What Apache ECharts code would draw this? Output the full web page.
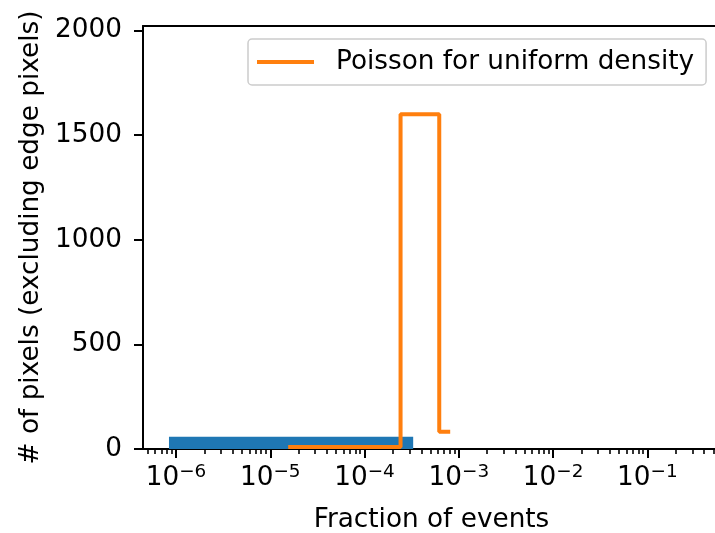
<!DOCTYPE html>
<html>
<head>
<meta charset="utf-8">
<script src="https://cdn.jsdelivr.net/npm/echarts@6/dist/echarts.min.js"></script>
<style>
html,body{margin:0;padding:0;background:#fff;}
#chart{width:715px;height:533px;}
</style>
</head>
<body>
<div id="chart"></div>
<script>
// ---- data ----
// histogram block (blue): [binStart, binEnd, count]
var histBins = [[8.43e-7, 3.28e-4, 58]];
// Poisson step (orange)
var poissonX = [1.55e-5, 2.41e-4, 6.2e-4, 8.1e-4];
var poissonY = [10, 1600, 83, 83];
var seriesName = 'Poisson for uniform density';
// axes (the plot continues a little past the right edge of the picture)
var xMin = 4.47e-7, xMax = 0.589;
var yMin = 0, yMax = 2022;
var xMajorTicks = [1e-6, 1e-5, 1e-4, 1e-3, 1e-2, 1e-1];
var yTicks = [0, 500, 1000, 1500, 2000];

var xMinorTicks = [];
for (var d = -7; d <= 0; d++) {
  for (var k = 2; k <= 9; k++) {
    var v = k * Math.pow(10, d);
    if (v >= xMin && v <= xMax) xMinorTicks.push(v);
  }
}

var FONT = 'DejaVu Sans';
var FS = 26.3;
var chart = echarts.init(document.getElementById('chart'), null, {renderer: 'canvas'});

var option = {
  animation: false,
  backgroundColor: '#ffffff',
  textStyle: {fontFamily: FONT},
  grid: {
    left: 143, right: -5, top: 26, bottom: 84,
    show: false, containLabel: false,
    outerBoundsMode: 'none'
  },
  legend: {
    show: true,
    data: [seriesName],
    left: 248, top: 39,
    padding: [8, 12, 8, 9],
    icon: 'rect',
    itemWidth: 57, itemHeight: 4,
    borderColor: '#cccccc', borderWidth: 1.5, borderRadius: 4,
    backgroundColor: 'rgba(255,255,255,0.8)',
    textStyle: {fontFamily: FONT, fontSize: FS, color: '#000', padding: [0, 0, 0, 17], lineHeight: 30}
  },
  xAxis: [{
    type: 'log',
    min: xMin, max: xMax,
    position: 'bottom',
    name: 'Fraction of events',
    nameLocation: 'middle',
    nameGap: 58,
    nameTextStyle: {fontFamily: FONT, fontSize: FS, color: '#000'},
    axisLine: {show: true, onZero: false, lineStyle: {color: '#000', width: 2}},
    axisTick: {show: true, length: 9, lineStyle: {color: '#000', width: 2}, customValues: xMajorTicks},
    splitLine: {show: false},
    minorTick: {show: false},
    axisLabel: {
      show: true, margin: 14,
      customValues: xMajorTicks,
      formatter: function (v) {
        var e = Math.round(Math.log10(v));
        return '{b|10}{s|' + (e < 0 ? '\u2212' + (-e) : e) + '}';
      },
      rich: {
        b: {fontFamily: FONT, fontSize: FS, color: '#000', lineHeight: 31},
        s: {fontFamily: FONT, fontSize: 18.4, color: '#000', lineHeight: 18, verticalAlign: 'top'}
      }
    }
  }, {
    type: 'log',
    min: xMin, max: xMax,
    position: 'bottom',
    gridIndex: 0,
    axisLine: {show: false, onZero: false},
    axisTick: {show: true, length: 5, lineStyle: {color: '#000', width: 1.6}, customValues: xMinorTicks},
    axisLabel: {show: false},
    splitLine: {show: false}
  }, {
    type: 'log',
    min: xMin, max: xMax,
    position: 'top',
    gridIndex: 0,
    axisLine: {show: true, onZero: false, lineStyle: {color: '#000', width: 2}},
    axisTick: {show: false},
    axisLabel: {show: false},
    splitLine: {show: false}
  }],
  yAxis: {
    type: 'value',
    min: yMin, max: yMax,
    name: '# of pixels (excluding edge pixels)',
    nameLocation: 'middle',
    nameGap: 99,
    nameRotate: 90,
    nameTextStyle: {fontFamily: FONT, fontSize: FS, color: '#000'},
    axisLine: {show: true, lineStyle: {color: '#000', width: 2}},
    axisTick: {show: true, length: 9, lineStyle: {color: '#000', width: 2}, customValues: yTicks},
    axisLabel: {
      show: true, margin: 21, fontFamily: FONT, fontSize: FS, color: '#000', customValues: yTicks,
      formatter: function (v) { return String(v); }
    },
    splitLine: {show: false}
  },
  series: [{
    type: 'custom',
    name: 'hist',
    xAxisIndex: 0,
    z: 1,
    encode: {x: [0, 1], y: 2},
    data: histBins,
    renderItem: function (params, api) {
      var p0 = api.coord([api.value(0), 0]);
      var p1 = api.coord([api.value(1), api.value(2)]);
      return {
        type: 'rect',
        shape: {x: p0[0], y: p1[1], width: p1[0] - p0[0], height: p0[1] - p1[1]},
        style: {fill: '#1f77b4'}
      };
    }
  }, {
    type: 'line',
    name: seriesName,
    xAxisIndex: 0,
    z: 3,
    step: 'end',
    showSymbol: false,
    symbol: 'none',
    itemStyle: {color: '#ff7f0e'},
    lineStyle: {color: '#ff7f0e', width: 4},
    data: poissonX.map(function (x, i) { return [x, poissonY[i]]; })
  }]
};
chart.setOption(option);
</script>
</body>
</html>
